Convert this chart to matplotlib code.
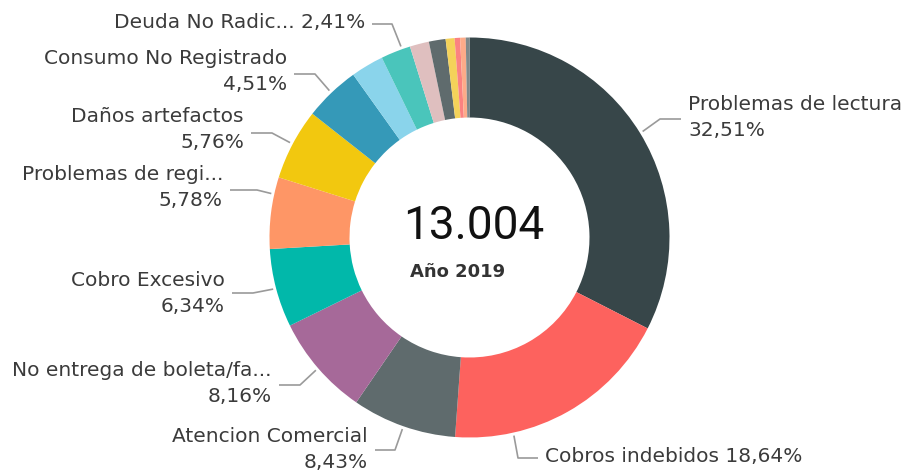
import matplotlib
matplotlib.use("Agg")
import matplotlib.pyplot as plt
import numpy as np

# slice data, clockwise from 12 o'clock (percent of 13.004 reclamos)
categories = ["Problemas de lectura", "Cobros indebidos", "Atencion Comercial",
              "No entrega de boleta/fa...", "Cobro Excesivo", "Problemas de regi...",
              "Daños artefactos", "Consumo No Registrado", "Otro 1", "Deuda No Radic...",
              "Otro 2", "Otro 3", "Otro 4", "Otro 5", "Otro 6", "Otro 7"]
values = [32.51, 18.64, 8.43, 8.16, 6.34, 5.78, 5.76, 4.51, 2.65, 2.41,
          1.55, 1.35, 0.72, 0.44, 0.45, 0.30]
pct_labels = ["32,51%", "18,64%", "8,43%", "8,16%", "6,34%", "5,78%", "5,76%",
              "4,51%", None, "2,41%", None, None, None, None, None, None]
colors = ["#374649", "#FD625E", "#5F6B6D", "#A66999", "#01B8AA", "#FE9666",
          "#F2C80F", "#3599B8", "#8AD4EB", "#4AC5BB", "#DFBFBF", "#5F6B6D",
          "#F4D25A", "#FB8281", "#FDAB89", "#7F898A"]
total_text = "13.004"
subtitle = "Año 2019"

# label layout in pixels:
# index -> (text x, text y, elbow x, line y, side, one line?, where leader leaves the slice 0..1)
layout = {
    0: (688, 104, 660, 119, "left", False, 0.5),
    1: (545, 456, 518, 458, "left", True, 0.75),
    2: (368, 436, 395, 450, "right", False, 0.5),
    3: (272, 371, 300, 385, "right", False, 0.5),
    4: (225, 281, 253, 293, "right", False, 0.5),
    5: (223, 175, 257, 190, "right", False, 0.76),
    6: (244, 117, 272, 133, "right", False, 0.5),
    7: (287, 59, 315, 74, "right", False, 0.5),
    9: (365, 23, 392, 24, "right", True, 0.72),
}

W, H = 920, 471
cx, cy, R = 469.5, 237.5, 200

plt.rcParams['font.family'] = ['DejaVu Sans']
fig = plt.figure(figsize=(W / 100, H / 100), dpi=100)
ax = fig.add_axes([0, 0, 1, 1])

# inverted y axis: startangle -90 is 12 o'clock, counterclock goes clockwise on screen
ax.pie(values, colors=colors, startangle=-90, counterclock=True,
       center=(cx, cy), radius=R,
       wedgeprops=dict(width=80, linewidth=0))
ax.set_xlim(0, W)
ax.set_ylim(H, 0)
ax.set_aspect("auto")
ax.axis("off")

txt_color = "#3b3b3b"
line_color = "#9a9a9a"
fs = 14.5
cum = np.cumsum([0] + values[:-1])
tot = sum(values)
for i, (tx, ty, ex, ly, side, one, f) in layout.items():
    phi = np.radians(360 * (cum[i] + values[i] * f) / tot)
    sx = cx + (R + 3) * np.sin(phi)
    sy = cy - (R + 3) * np.cos(phi)
    gap = 7 if side == "left" else -7
    ax.plot([sx, ex, tx - gap], [sy, ly, ly], color=line_color, lw=1.2,
            solid_capstyle="butt")
    if one:
        ax.text(tx, ty, categories[i] + " " + pct_labels[i], ha=side, va="center",
                fontsize=fs, color=txt_color)
    else:
        ax.text(tx, ty, categories[i], ha=side, va="center", fontsize=fs, color=txt_color)
        ax.text(tx, ty + 26, pct_labels[i], ha=side, va="center", fontsize=fs,
                color=txt_color)

ax.text(474, 239, total_text, ha="center", va="baseline", fontsize=33,
        family="Roboto", color="#111111")
ax.text(458, 277, subtitle, ha="center", va="baseline", fontsize=13,
        fontweight="bold", color="#333333")

fig.savefig("out.png", dpi=100)
